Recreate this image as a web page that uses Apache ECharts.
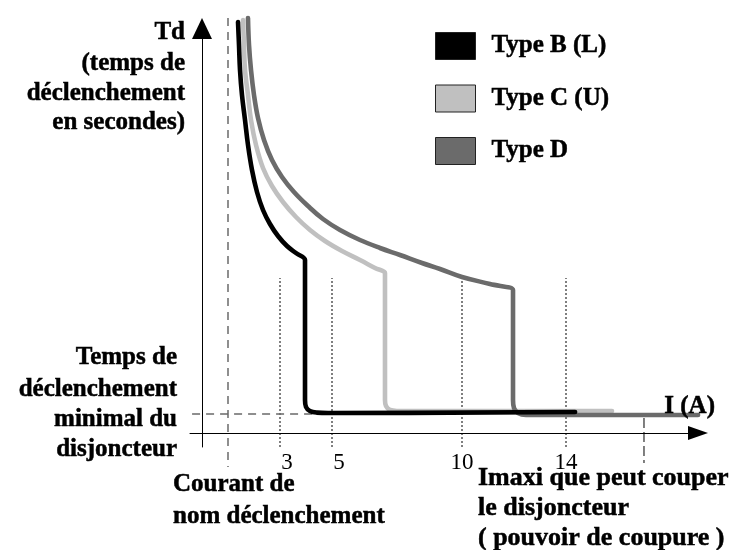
<!DOCTYPE html>
<html>
<head>
<meta charset="utf-8">
<script src="https://cdn.jsdelivr.net/npm/echarts@6/dist/echarts.min.js"></script>
<style>html,body{margin:0;padding:0;background:#fff;}#c{width:744px;height:550px;}</style>
</head>
<body>
<div id="c"></div>
<script>
// ---- data (x: current in multiples of In, y: trip time, arbitrary units) ----
var seriesNames = ['Type B (L)', 'Type C (U)', 'Type D'];
var typeB = [[1.385,20.55],[1.423,19.4],[1.462,18.15],[1.538,16.9],[1.654,15.65],[1.769,14.4],[1.923,13.15],[2.115,12.05],[2.346,11.15],[2.615,10.45],[2.923,9.85],[3.269,9.35],[3.615,9.0],[3.962,8.65],[3.962,8.55],[3.962,1.65],[4.0,1.3],[4.15,1.1],[4.42,1.02],[4.85,1.0],[14.35,1.05]];
var typeC = [[1.577,20.65],[1.615,19.4],[1.654,18.15],[1.769,16.9],[1.885,15.65],[2.077,14.4],[2.346,13.25],[2.692,12.35],[3.115,11.55],[3.615,10.8],[4.154,10.15],[4.731,9.6],[5.385,9.1],[6.077,8.65],[6.654,8.25],[7.038,8.0],[7.038,7.85],[7.038,1.65],[7.077,1.35],[7.23,1.15],[7.5,1.1],[8.0,1.1],[15.77,1.1]];
var typeD = [[1.769,20.75],[1.808,19.4],[1.885,18.15],[2.0,16.9],[2.154,15.75],[2.385,14.65],[2.692,13.65],[3.077,12.8],[3.538,12.05],[4.077,11.35],[4.654,10.7],[5.308,10.15],[6.077,9.65],[6.846,9.25],[7.615,8.9],[8.462,8.5],[9.154,8.2],[10.0,7.8],[11.077,7.45],[11.962,7.15],[11.962,7.0],[11.962,1.65],[12.0,1.25],[12.15,1.0],[12.46,0.9],[13.0,0.9],[19.08,0.9]];
var tickValues = [3, 5, 10, 14];
var tickShift = [14, 14, 0, 0];   // label nudges (px of left padding)
var nominalCurrent = 1;      // "Courant de nom déclenchement"
var minTripTime = 0.95;      // "Temps de déclenchement minimal"
var breakingCapacity = 17;   // "Imaxi que peut couper le disjoncteur"
var guideTop = 7.75;

var FONT = 'bold 25px "Liberation Serif", "Times New Roman", serif';
var FONT_BIG = 'bold 26px "Liberation Serif", "Times New Roman", serif';

var chart = echarts.init(document.getElementById('c'));

function guide(data, color, width, type) {
  return {type: 'line', data: data, symbol: 'none', clip: false, silent: true, z: 1,
    lineStyle: {color: color, width: width, type: type}, tooltip: {show: false}};
}
var guideSeries = tickValues.map(function (v) {
  return guide([[v, -0.7], [v, guideTop]], '#000', 1, [2, 2]);
});
guideSeries.push(guide([[nominalCurrent, 20.75], [nominalCurrent, -1.7]], '#6a6a6a', 1.5, [8, 6]));
guideSeries.push(guide([[-0.92, minTripTime], [4.5, minTripTime]], '#6a6a6a', 1.5, [8, 6]));
guideSeries.push(guide([[breakingCapacity, 0.75], [breakingCapacity, -1.5]], '#000', 1, [10, 4]));

function txt(t, x, y, align, font) {
  return {type: 'text', silent: true, z: 10, style: {text: t, x: x, y: y, textAlign: align, textVerticalAlign: 'middle', font: font || FONT, fill: '#000', stroke: '#000', lineWidth: 0.5}};
}

var rich = {};
tickValues.forEach(function (v, i) {
  rich['t' + i] = {fontFamily: '"Liberation Serif", serif', fontSize: 23, color: '#000', padding: [0, 0, 0, tickShift[i]]};
});

function curve(name, data, color, z) {
  return {name: name, type: 'line', data: data, symbol: 'none', clip: false, z: z, color: color, smooth: 0.4,
    lineStyle: {color: color, width: 4.6, join: 'round', cap: 'round'}};
}

var option = {
  animation: false,
  backgroundColor: '#fff',
  grid: {left: 190, right: 46, top: 28.5, bottom: 103},
  xAxis: {
    type: 'value', min: -0.4615, max: 19.077,
    axisLine: {show: true, onZero: true, symbol: ['none', 'triangle'], symbolSize: [14, 20], lineStyle: {color: '#000', width: 1}},
    axisTick: {show: false},
    splitLine: {show: false},
    axisLabel: {show: true, customValues: tickValues, margin: 4,
      formatter: function (v) { var i = tickValues.indexOf(v); return '{t' + i + '|' + v + '}'; },
      rich: rich}
  },
  yAxis: {
    type: 'value', min: -0.7, max: 20.225,
    axisLine: {show: true, onZero: true, symbol: ['none', 'triangle'], symbolSize: [20, 21], lineStyle: {color: '#000', width: 1}},
    axisTick: {show: false},
    splitLine: {show: false},
    axisLabel: {show: false}
  },
  legend: {
    data: seriesNames,
    orient: 'vertical', left: 430, top: 27,
    icon: 'rect', itemWidth: 40, itemHeight: 27, itemGap: 24.5,
    itemStyle: {borderColor: '#222', borderWidth: 1},
    textStyle: {fontFamily: '"Liberation Serif", serif', fontWeight: 'bold', fontSize: 25, color: '#000', lineHeight: 27, padding: [0, 0, 0, 11], textBorderColor: '#000', textBorderWidth: 0.5}
  },
  series: guideSeries.concat([
    curve(seriesNames[1], typeC, '#c0c0c0', 2),
    curve(seriesNames[2], typeD, '#6b6b6b', 3),
    curve(seriesNames[0], typeB, '#000000', 4)
  ]),
  graphic: [
    txt('Td', 185, 33, 'right'),
    txt('(temps de', 185, 64, 'right'),
    txt('déclenchement', 185, 94, 'right'),
    txt('en secondes)', 185, 123, 'right'),
    txt('Temps de', 177, 358, 'right'),
    txt('déclenchement', 177, 390, 'right'),
    txt('minimal du', 177, 420, 'right'),
    txt('disjoncteur', 177, 450, 'right'),
    txt('Courant de', 173, 485, 'left'),
    txt('nom déclenchement', 173, 517, 'left'),
    txt('Imaxi que peut couper', 478, 478, 'left', FONT_BIG),
    txt('le disjoncteur', 478, 508, 'left', FONT_BIG),
    txt('( pouvoir de coupure )', 478, 538, 'left', FONT_BIG),
    txt('I (A)', 715, 407, 'right')
  ]
};
chart.setOption(option);
</script>
</body>
</html>
